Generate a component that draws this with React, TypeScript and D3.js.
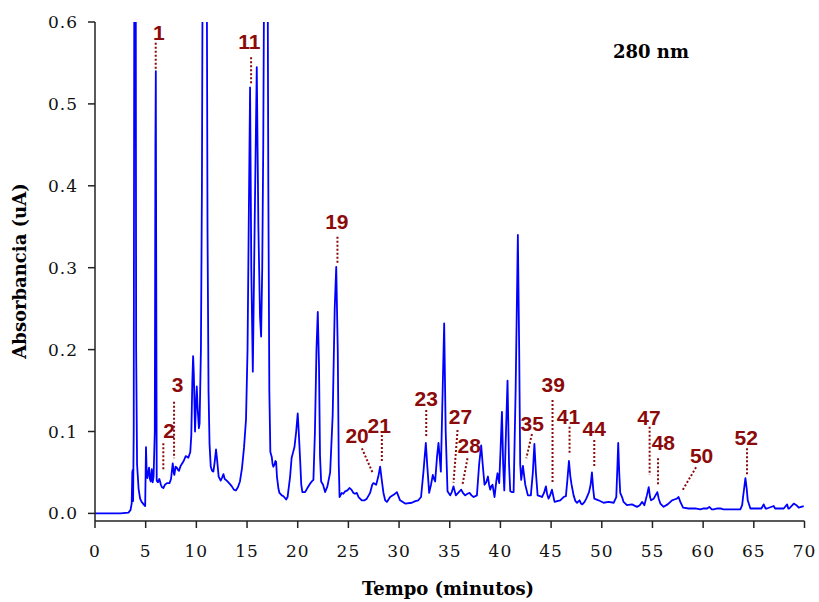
import React from "react";
import * as d3 from "d3";

// Retention time (min) of each sampled point on the trace
const retentionTimes: number[] = [
  0, 2.5, 3.3, 3.5, 3.62, 3.68, 3.72, 3.76, 3.82, 3.9, 3.95, 4.0, 4.06, 4.15, 4.3, 4.45, 4.6, 4.8, 4.95,
  5.03, 5.1, 5.17, 5.33, 5.42, 5.5, 5.6, 5.69, 5.78, 5.9, 5.96, 6.0, 6.04, 6.09, 6.2, 6.35, 6.5, 6.6, 6.75, 6.9,
  7.1, 7.35, 7.5, 7.67, 7.78, 7.83, 7.95, 8.06, 8.2, 8.29, 8.45, 8.55, 8.75, 8.95, 9.1, 9.21, 9.4, 9.5, 9.6,
  9.68, 9.75, 9.87, 9.95, 10.04, 10.12, 10.25, 10.32, 10.45, 10.55, 10.65, 10.82, 11.0, 11.1, 11.2, 11.3,
  11.42, 11.55, 11.68, 11.8, 11.94, 12.05, 12.2, 12.4, 12.55, 12.67, 12.8, 13.0, 13.3, 13.5, 13.7, 13.9,
  14.1, 14.3, 14.5, 14.7, 14.9, 15.05, 15.15, 15.3, 15.42, 15.57, 15.75, 15.96, 16.12, 16.28, 16.39, 16.5,
  16.6, 16.7, 16.85, 17.0, 17.1, 17.2, 17.3, 17.44, 17.52, 17.6, 17.72, 17.8, 17.87, 17.95, 18.1, 18.2,
  18.43, 18.6, 18.86, 19.0, 19.25, 19.4, 19.51, 19.68, 19.85, 20.0, 20.1, 20.24, 20.35, 20.46, 20.73, 21.0,
  21.2, 21.39, 21.55, 21.7, 21.85, 21.98, 22.1, 22.2, 22.31, 22.5, 22.7, 22.93, 23.2, 23.45, 23.65, 23.8,
  23.95, 24.05, 24.13, 24.35, 24.5, 24.68, 24.9, 25.1, 25.3, 25.5, 25.65, 25.83, 26.0, 26.32, 26.6, 26.82,
  27.14, 27.35, 27.47, 27.74, 27.95, 28.13, 28.3, 28.46, 28.63, 28.8, 29.12, 29.5, 29.78, 30.1, 30.6, 31.26,
  31.6, 31.9, 32.17, 32.4, 32.64, 32.8, 32.97, 33.15, 33.33, 33.45, 33.56, 33.75, 33.89, 34.0, 34.12, 34.3,
  34.45, 34.6, 34.78, 35.04, 35.2, 35.37, 35.6, 35.9, 36.13, 36.3, 36.52, 36.75, 36.95, 37.15, 37.35, 37.68,
  37.9, 38.1, 38.25, 38.43, 38.6, 38.77, 38.88, 38.99, 39.1, 39.22, 39.42, 39.6, 39.71, 39.88, 40.02, 40.15,
  40.27, 40.38, 40.55, 40.7, 40.85, 40.97, 41.15, 41.3, 41.5, 41.72, 41.85, 41.95, 42.05, 42.22, 42.35,
  42.45, 42.71, 43.0, 43.2, 43.35, 43.5, 43.67, 43.9, 44.1, 44.3, 44.49, 44.6, 44.75, 44.9, 45.08, 45.2,
  45.34, 45.6, 45.9, 46.23, 46.46, 46.6, 46.76, 46.9, 47.02, 47.22, 47.4, 47.56, 47.81, 47.95, 48.08, 48.3,
  48.47, 48.74, 48.9, 49.03, 49.15, 49.26, 49.68, 50.18, 50.67, 51.17, 51.43, 51.55, 51.62, 51.72, 51.82,
  52.0, 52.15, 52.48, 52.98, 53.47, 53.75, 53.97, 54.1, 54.2, 54.45, 54.63, 54.76, 54.86, 55.12, 55.3,
  55.48, 55.62, 55.78, 56.1, 56.5, 56.93, 57.16, 57.4, 57.58, 57.75, 58.02, 58.57, 59.23, 59.72, 60.05,
  60.4, 60.61, 60.85, 61.04, 61.4, 61.7, 62.0, 62.36, 62.8, 63.18, 63.67, 63.85, 63.94, 64.17, 64.3, 64.4,
  64.66, 65.32, 65.75, 65.97, 66.15, 66.3, 66.96, 67.1, 67.3, 67.95, 68.29, 68.4, 68.5, 68.94, 69.2, 69.43,
  69.92,
];

// Absorbance (uA) at each retention time above
const absorbance: number[] = [
  0, 0, 0.001, 0.004, 0.012, 0.05, 0.053, 0.015, 0.1, 0.9, 1.6, 0.9, 0.2, 0.06, 0.03, 0.018, 0.014, 0.011, 0.009,
  0.081, 0.05, 0.043, 0.056, 0.042, 0.039, 0.054, 0.038, 0.045, 0.1, 0.45, 0.54, 0.3, 0.04, 0.038, 0.042, 0.035, 0.032, 0.031, 0.035,
  0.037, 0.037, 0.042, 0.061, 0.049, 0.047, 0.057, 0.056, 0.053, 0.052, 0.058, 0.06, 0.064, 0.07, 0.069, 0.068, 0.075, 0.095, 0.16,
  0.192, 0.17, 0.1, 0.13, 0.155, 0.13, 0.104, 0.11, 0.2, 0.4, 0.8, 1.5, 0.8, 0.35, 0.15, 0.085,
  0.057, 0.052, 0.051, 0.062, 0.078, 0.065, 0.045, 0.04, 0.044, 0.048, 0.042, 0.04, 0.036, 0.033, 0.029, 0.028,
  0.032, 0.039, 0.055, 0.08, 0.115, 0.2, 0.33, 0.52, 0.3, 0.173, 0.35, 0.545, 0.35, 0.24, 0.216, 0.3,
  0.45, 0.7, 1.5, 0.8, 0.4, 0.15, 0.075, 0.069, 0.06, 0.057, 0.06, 0.064, 0.063, 0.045, 0.03, 0.025,
  0.022, 0.021, 0.017, 0.02, 0.045, 0.068, 0.073, 0.081, 0.1, 0.122, 0.1, 0.065, 0.035, 0.026, 0.026, 0.032,
  0.036, 0.039, 0.041, 0.1, 0.2, 0.246, 0.18, 0.07, 0.039, 0.035, 0.026, 0.033, 0.05, 0.12, 0.25, 0.301,
  0.2, 0.06, 0.02, 0.025, 0.024, 0.027, 0.028, 0.031, 0.029, 0.025, 0.024, 0.025, 0.02, 0.016, 0.016, 0.018,
  0.025, 0.035, 0.037, 0.035, 0.045, 0.057, 0.04, 0.025, 0.016, 0.014, 0.02, 0.023, 0.026, 0.016, 0.012, 0.013,
  0.015, 0.016, 0.02, 0.05, 0.086, 0.055, 0.025, 0.035, 0.047, 0.042, 0.039, 0.07, 0.086, 0.07, 0.051, 0.15,
  0.232, 0.1, 0.027, 0.022, 0.026, 0.033, 0.022, 0.026, 0.029, 0.025, 0.022, 0.024, 0.025, 0.022, 0.02, 0.022,
  0.06, 0.083, 0.06, 0.035, 0.038, 0.045, 0.035, 0.029, 0.033, 0.035, 0.02, 0.04, 0.049, 0.037, 0.08, 0.124,
  0.06, 0.028, 0.1, 0.162, 0.06, 0.027, 0.026, 0.026, 0.15, 0.34, 0.2, 0.06, 0.041, 0.058, 0.045,
  0.035, 0.022, 0.022, 0.05, 0.085, 0.05, 0.022, 0.021, 0.02, 0.025, 0.033, 0.024, 0.018, 0.022, 0.029, 0.022,
  0.014, 0.015, 0.016, 0.02, 0.021, 0.04, 0.064, 0.045, 0.035, 0.022, 0.015, 0.013, 0.016, 0.012, 0.011, 0.014,
  0.018, 0.026, 0.035, 0.05, 0.03, 0.018, 0.016, 0.013, 0.014, 0.013, 0.02, 0.06, 0.086, 0.05, 0.025,
  0.02, 0.014, 0.01, 0.011, 0.008, 0.01, 0.014, 0.012, 0.01, 0.022, 0.032, 0.02, 0.016, 0.018, 0.022,
  0.026, 0.018, 0.012, 0.008, 0.011, 0.016, 0.017, 0.018, 0.02, 0.014, 0.007, 0.006, 0.006, 0.005, 0.006,
  0.006, 0.008, 0.005, 0.005, 0.006, 0.006, 0.005, 0.005, 0.005, 0.005, 0.005, 0.01, 0.02, 0.043, 0.03, 0.016,
  0.006, 0.006, 0.006, 0.011, 0.006, 0.006, 0.009, 0.006, 0.006, 0.006, 0.011, 0.006, 0.006, 0.012, 0.01, 0.007,
  0.009,
];

const xTicks: number[] = [0, 5, 10, 15, 20, 25, 30, 35, 40, 45, 50, 55, 60, 65, 70];
const yTicks: number[] = [0, 0.1, 0.2, 0.3, 0.4, 0.5, 0.6];

// Peak labels: text anchor (time, absorbance) and leader line (time1, abs1) -> (time2, abs2)
const peakNames: string[] = ["1", "11", "2", "3", "19", "20", "21", "23", "27", "28", "35", "39", "41", "44", "47", "48", "50", "52"];
const labelTime: number[] = [6.3, 15.23, 7.31, 8.16, 23.86, 25.86, 28.04, 32.68, 36.06, 36.92, 43.14, 45.21, 46.72, 49.26, 54.66, 56.07, 59.85, 64.25];
const labelAbs: number[] = [0.5786, 0.5667, 0.0917, 0.1486, 0.3473, 0.0863, 0.0985, 0.1311, 0.1092, 0.0741, 0.1006, 0.1486, 0.1088, 0.0945, 0.1079, 0.0774, 0.0612, 0.0835];
const leadT1: number[] = [5.99, 15.4, 6.74, 7.8, 23.92, 26.33, 28.3, 32.68, 35.77, 36.75, 43.11, 45.14, 46.82, 49.26, 54.72, 55.55, 59.3, 64.33];
const leadA1: number[] = [0.5747, 0.5569, 0.0856, 0.1364, 0.3378, 0.0795, 0.0957, 0.1262, 0.1018, 0.0673, 0.0969, 0.1385, 0.1059, 0.0896, 0.1059, 0.0673, 0.0563, 0.0795];
const leadT2: number[] = [5.99, 15.4, 6.74, 7.8, 23.92, 27.41, 28.3, 32.68, 35.37, 36.26, 42.55, 45.14, 46.82, 49.26, 54.72, 55.55, 57.98, 64.33];
const leadA2: number[] = [0.5405, 0.5231, 0.053, 0.0673, 0.3054, 0.049, 0.0631, 0.0929, 0.0375, 0.0355, 0.0673, 0.0375, 0.0725, 0.0563, 0.0469, 0.0347, 0.0286, 0.0469];

const W = 819;
const H = 602;
const X0 = 95;
const X1 = 804.5;
const YTOP = 22;
const YZERO = 513.4;
const AXIS_Y = 521;

export default function App() {
  const x = d3.scaleLinear().domain([0, 70]).range([X0, X1]);
  const y = d3.scaleLinear().domain([0, 0.6]).range([YZERO, YTOP]);
  const pts: [number, number][] = retentionTimes.map((t, i) => [t, absorbance[i]]);
  const line = d3
    .line<[number, number]>()
    .x((d) => x(d[0]))
    .y((d) => y(d[1]));
  const path = line(pts) || "";
  const serif = "'DejaVu Serif', serif";
  const sans = "'Liberation Sans', Arial, sans-serif";
  const red = "#8B0A0A";
  const axisColor = "#222";
  return (
    <svg width={W} height={H} style={{ position: "absolute", left: 0, top: 0, background: "#fff" }}>
      <defs>
        <clipPath id="plotclip">
          <rect x={X0} y={YTOP} width={X1 - X0 + 5} height={AXIS_Y - YTOP} />
        </clipPath>
      </defs>
      {/* leader lines */}
      {peakNames.map((n, i) => (
        <line
          key={"l" + n}
          x1={x(leadT1[i])}
          y1={y(leadA1[i])}
          x2={x(leadT2[i])}
          y2={y(leadA2[i])}
          stroke={red}
          strokeWidth={2}
          strokeDasharray="2,2"
        />
      ))}
      {/* trace */}
      <path d={path} fill="none" stroke="#0000FF" strokeWidth={1.8} clipPath="url(#plotclip)" strokeLinejoin="round" />
      {/* axes */}
      <line x1={X0} y1={YTOP} x2={X0} y2={AXIS_Y} stroke={axisColor} strokeWidth={1.5} />
      <line x1={X0} y1={AXIS_Y} x2={X1} y2={AXIS_Y} stroke={axisColor} strokeWidth={1.5} />
      {yTicks.map((v) => (
        <g key={"y" + v}>
          <line x1={X0 - 7} x2={X0} y1={y(v)} y2={y(v)} stroke={axisColor} strokeWidth={1.5} />
          <text x={X0 - 17} y={y(v) + 6} textAnchor="end" fontFamily={serif} fontSize={17} letterSpacing={1} fill="#111">
            {d3.format(".1f")(v)}
          </text>
        </g>
      ))}
      {xTicks.map((v) => (
        <g key={"x" + v}>
          <line x1={x(v)} x2={x(v)} y1={AXIS_Y} y2={AXIS_Y + 7} stroke={axisColor} strokeWidth={1.5} />
          <text x={x(v)} y={AXIS_Y + 36} textAnchor="middle" fontFamily={serif} fontSize={17} letterSpacing={1} fill="#111">
            {v}
          </text>
        </g>
      ))}
      {/* axis titles */}
      <text x={448} y={595} textAnchor="middle" fontFamily={serif} fontWeight="bold" fontSize={18} fill="#000">
        Tempo (minutos)
      </text>
      <text
        transform={`translate(26, 271) rotate(-90)`}
        textAnchor="middle"
        fontFamily={serif}
        fontWeight="bold"
        fontSize={18}
        fill="#000"
      >
        Absorbancia (uA)
      </text>
      <text x={651} y={58} textAnchor="middle" fontFamily={serif} fontWeight="bold" fontSize={18} fill="#000">
        280 nm
      </text>
      {/* peak labels */}
      {peakNames.map((n, i) => (
        <text
          key={"t" + n}
          x={x(labelTime[i])}
          y={y(labelAbs[i])}
          textAnchor="middle"
          fontFamily={sans}
          fontWeight="bold"
          fontSize={21}
          fill={red}
        >
          {n}
        </text>
      ))}
    </svg>
  );
}
